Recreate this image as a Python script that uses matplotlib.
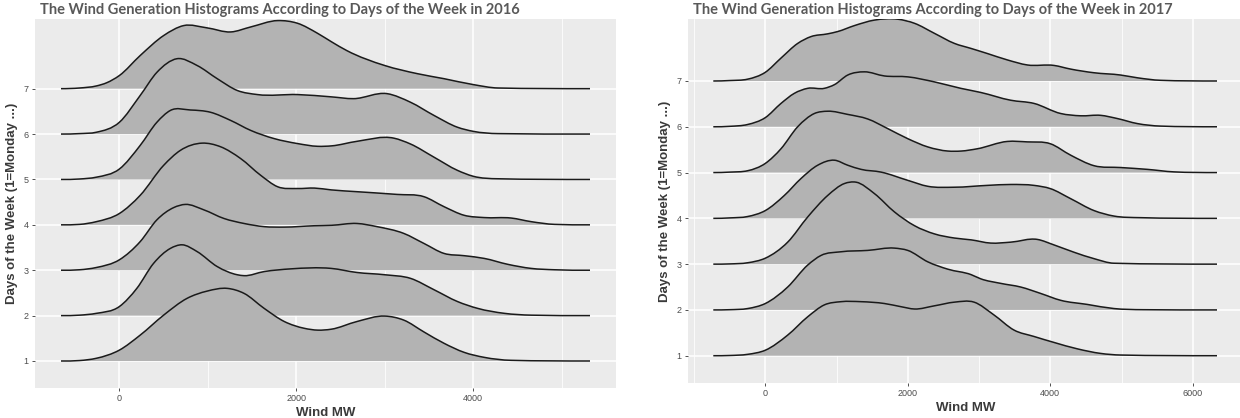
import matplotlib
matplotlib.use('Agg')
import matplotlib.pyplot as plt
from matplotlib.path import Path
from matplotlib.patches import PathPatch
import numpy as np

# ridge outlines: x in MW, height in row units above the baseline
days = [1, 2, 3, 4, 5, 6, 7]

# ---- 2016 ----
x16_1 = [-660, -450, -260, 0, 235, 500, 765, 992, 1220, 1409, 1636, 1864, 2091, 2242, 2394, 2686, 3000, 3216, 3443, 3670, 3898, 4125, 4428, 5320]
h16_1 = [0, 0.01, 0.06, 0.24, 0.57, 1.01, 1.38, 1.54, 1.60, 1.49, 1.16, 0.87, 0.72, 0.68, 0.70, 0.87, 0.99, 0.90, 0.64, 0.39, 0.19, 0.08, 0.015, 0]
x16_2 = [-660, -450, -260, 0, 197, 386, 576, 708, 879, 1106, 1333, 1409, 1636, 1939, 2394, 2686, 3000, 3292, 3557, 3822, 4049, 4352, 4655, 5320]
h16_2 = [0, 0.01, 0.05, 0.20, 0.60, 1.15, 1.48, 1.56, 1.41, 1.08, 0.90, 0.88, 0.97, 1.03, 1.04, 0.95, 0.90, 0.82, 0.57, 0.31, 0.16, 0.05, 0.01, 0]
x16_3 = [-660, -450, -260, 0, 235, 424, 614, 746, 955, 1182, 1409, 1636, 1864, 2205, 2400, 2686, 2913, 3216, 3443, 3670, 3898, 4125, 4390, 4655, 4920, 5320]
h16_3 = [0, 0.01, 0.06, 0.23, 0.63, 1.11, 1.38, 1.45, 1.33, 1.14, 1.03, 0.96, 0.95, 0.98, 0.99, 1.03, 0.96, 0.81, 0.59, 0.37, 0.32, 0.26, 0.13, 0.04, 0.01, 0]
x16_4 = [-660, -450, -260, 0, 235, 500, 689, 936, 1144, 1371, 1598, 1788, 2015, 2205, 2394, 2686, 3140, 3443, 3670, 3898, 4125, 4428, 4655, 4920, 5320]
h16_4 = [0, 0.01, 0.07, 0.25, 0.65, 1.31, 1.64, 1.80, 1.72, 1.46, 1.09, 0.84, 0.80, 0.81, 0.77, 0.73, 0.67, 0.62, 0.40, 0.21, 0.16, 0.15, 0.07, 0.01, 0]
x16_5 = [-660, -450, -260, 0, 235, 424, 576, 803, 1030, 1258, 1485, 1750, 2015, 2242, 2400, 2686, 3102, 3292, 3557, 3822, 4000, 4280, 5320]
h16_5 = [0, 0.01, 0.05, 0.23, 0.75, 1.26, 1.52, 1.53, 1.48, 1.30, 1.08, 0.90, 0.79, 0.73, 0.74, 0.84, 0.91, 0.78, 0.49, 0.20, 0.07, 0.015, 0]
x16_6 = [-660, -450, -260, 0, 235, 424, 651, 879, 1106, 1333, 1561, 2015, 2394, 2648, 3027, 3292, 3557, 3822, 4000, 4280, 5320]
h16_6 = [0, 0.01, 0.04, 0.26, 0.85, 1.36, 1.66, 1.51, 1.22, 0.96, 0.87, 0.87, 0.82, 0.78, 0.89, 0.70, 0.41, 0.15, 0.06, 0.01, 0]
x16_7 = [-660, -450, -260, -144, 0, 235, 500, 727, 990, 1260, 1485, 1790, 2015, 2240, 2400, 2570, 3000, 3370, 3670, 4000, 4280, 5320]
h16_7 = [0, 0.015, 0.06, 0.13, 0.29, 0.73, 1.17, 1.39, 1.34, 1.25, 1.36, 1.50, 1.44, 1.22, 1.03, 0.84, 0.51, 0.33, 0.22, 0.09, 0.015, 0]

# ---- 2017 ----
x17_1 = [-730, -500, -248, 0, 314, 595, 829, 1063, 1344, 1672, 1906, 2094, 2375, 2656, 2930, 3210, 3491, 3772, 4052, 4380, 4707, 4988, 6340]
h17_1 = [0, 0.005, 0.03, 0.12, 0.45, 0.85, 1.11, 1.18, 1.18, 1.14, 1.07, 1.02, 1.09, 1.17, 1.17, 0.89, 0.56, 0.42, 0.29, 0.15, 0.05, 0.015, 0]
x17_2 = [-730, -500, -248, 0, 314, 595, 782, 1063, 1438, 1813, 2000, 2281, 2562, 2890, 3023, 3304, 3585, 3865, 4146, 4520, 4894, 5300, 6340]
h17_2 = [0, 0.005, 0.03, 0.14, 0.50, 0.98, 1.19, 1.27, 1.30, 1.35, 1.30, 1.05, 0.89, 0.77, 0.68, 0.58, 0.50, 0.36, 0.21, 0.12, 0.03, 0.005, 0]
x17_3 = [-730, -500, -248, 0, 314, 595, 876, 1110, 1274, 1532, 1813, 2094, 2375, 2656, 2890, 3164, 3444, 3818, 4052, 4333, 4614, 4894, 6340]
h17_3 = [0, 0.005, 0.03, 0.13, 0.48, 1.03, 1.50, 1.76, 1.79, 1.54, 1.14, 0.84, 0.66, 0.57, 0.53, 0.46, 0.48, 0.54, 0.42, 0.26, 0.12, 0.02, 0]
x17_4 = [-730, -500, -248, 0, 267, 501, 735, 970, 1157, 1344, 1625, 2000, 2281, 2656, 3117, 3444, 3772, 4000, 4286, 4614, 4894, 5268, 6340]
h17_4 = [0, 0.01, 0.04, 0.17, 0.50, 0.87, 1.16, 1.27, 1.16, 1.07, 1.01, 0.83, 0.70, 0.68, 0.72, 0.74, 0.72, 0.65, 0.43, 0.17, 0.05, 0.015, 0]
x17_5 = [-730, -500, -248, 0, 220, 454, 689, 876, 1157, 1438, 1719, 2000, 2281, 2562, 2749, 2977, 3398, 3678, 4000, 4286, 4614, 4988, 5362, 5736, 6340]
h17_5 = [0, 0.01, 0.04, 0.20, 0.52, 1.00, 1.29, 1.34, 1.27, 1.17, 0.96, 0.74, 0.56, 0.47, 0.47, 0.52, 0.68, 0.67, 0.63, 0.38, 0.15, 0.11, 0.07, 0.015, 0]
x17_6 = [-730, -500, -248, 0, 220, 407, 595, 829, 970, 1157, 1391, 1672, 2000, 2375, 2743, 3023, 3444, 3772, 4146, 4427, 4707, 4941, 5222, 5549, 6340]
h17_6 = [0, 0.01, 0.05, 0.20, 0.51, 0.73, 0.84, 0.84, 0.92, 1.13, 1.20, 1.11, 1.09, 0.98, 0.84, 0.75, 0.58, 0.51, 0.29, 0.24, 0.25, 0.18, 0.07, 0.015, 0]
x17_7 = [-730, -500, -248, 0, 220, 454, 642, 876, 1016, 1251, 1532, 1859, 2094, 2375, 2656, 2890, 3117, 3398, 3678, 4052, 4286, 4614, 4988, 5222, 5549, 6340]
h17_7 = [0, 0.01, 0.04, 0.19, 0.50, 0.82, 0.97, 1.03, 1.08, 1.21, 1.33, 1.35, 1.26, 1.04, 0.82, 0.71, 0.60, 0.46, 0.35, 0.34, 0.26, 0.18, 0.13, 0.07, 0.015, 0]

ridges16 = [(x16_1, h16_1), (x16_2, h16_2), (x16_3, h16_3), (x16_4, h16_4), (x16_5, h16_5), (x16_6, h16_6), (x16_7, h16_7)]
ridges17 = [(x17_1, h17_1), (x17_2, h17_2), (x17_3, h17_3), (x17_4, h17_4), (x17_5, h17_5), (x17_6, h17_6), (x17_7, h17_7)]

xticks16 = [0, 2000, 4000]
xminor16 = [1000, 3000, 5000]
xticks17 = [0, 2000, 4000, 6000]
xminor17 = [-1000, 1000, 3000, 5000]

title16 = 'The Wind Generation Histograms According to Days of the Week in 2016'
title17 = 'The Wind Generation Histograms According to Days of the Week in 2017'

W, H = 1240, 418
fig = plt.figure(figsize=(W / 100, H / 100), dpi=100)
fig.patch.set_facecolor('white')

narrow = ['Liberation Sans Narrow', 'Liberation Sans', 'DejaVu Sans']


def bezier_verts(xs, hs, base):
    # smooth outline through the read points (cubic bezier, flat at both ends)
    x = np.asarray(xs, float)
    y = np.asarray(hs, float)
    dx = np.diff(x)
    sec = np.diff(y) / dx
    m = np.zeros_like(y)
    for i in range(1, len(y) - 1):
        d = (sec[i - 1] * dx[i] + sec[i] * dx[i - 1]) / (dx[i - 1] + dx[i])
        if y[i] < 0.1:
            # near the baseline: keep the tail from dipping below zero
            if sec[i - 1] * sec[i] <= 0:
                d = 0
            else:
                d = np.sign(d) * min(abs(d), 3 * min(abs(sec[i - 1]), abs(sec[i])))
        m[i] = d
    y = y + base
    verts = [(x[0], y[0])]
    codes = [Path.MOVETO]
    for i in range(len(x) - 1):
        h = dx[i] / 3
        verts += [(x[i] + h, y[i] + m[i] * h), (x[i + 1] - h, y[i + 1] - m[i + 1] * h), (x[i + 1], y[i + 1])]
        codes += [Path.CURVE4] * 3
    return verts, codes


def ridge_panel(box, ridges, xlim, ylim, xticks, xminor, title):
    l, t, r, b = box
    ax = fig.add_axes([l / W, 1 - b / H, (r - l) / W, (b - t) / H])
    ax.set_facecolor('#EBEBEB')
    for s in ax.spines.values():
        s.set_visible(False)
    ax.set_xlim(xlim)
    ax.set_ylim(ylim)
    ax.set_xticks(xticks)
    ax.set_xticks(xminor, minor=True)
    ax.set_yticks(days)
    ax.grid(True, which='major', color='white', lw=1.1, zorder=0)
    ax.grid(True, which='minor', axis='x', color='white', lw=0.55, zorder=0)
    ax.set_axisbelow(True)
    ax.tick_params(which='major', length=2.5, width=0.6, color='#333333',
                   labelsize=6.5, labelcolor='#4D4D4D', pad=2)
    ax.tick_params(which='minor', length=0)
    for lab in ax.get_xticklabels() + ax.get_yticklabels():
        lab.set_family(narrow)
    # top row first so the lower ridges sit on top
    for i in range(len(days) - 1, -1, -1):
        xs, hs = ridges[i]
        base = days[i]
        verts, codes = bezier_verts(xs, hs, base)
        fill_v = verts + [(xs[-1], base), (xs[0], base), (xs[0], base)]
        fill_c = codes + [Path.LINETO, Path.LINETO, Path.CLOSEPOLY]
        z = 2 + 2 * (7 - i)
        ax.add_patch(PathPatch(Path(fill_v, fill_c), facecolor='#B3B3B3', lw=0, zorder=z))
        ax.add_patch(PathPatch(Path(verts, codes), facecolor='none', edgecolor='#1A1A1A',
                               lw=1.1, joinstyle='round', zorder=z + 1))
    ax.set_xlabel('Wind MW', fontsize=9.5, fontweight='bold', color='#3A3A3A',
                  family=narrow, labelpad=3)
    ax.set_ylabel('Days of the Week (1=Monday ...)', fontsize=9.5, fontweight='bold',
                  color='#3A3A3A', family=narrow, labelpad=4)
    fig.text((l + 5) / W, 1 - 10 / H, title, fontsize=10.5, fontweight='bold',
             color='#595959', family=['Lato', 'DejaVu Sans'], ha='left', va='center')
    return ax


ridge_panel((35, 19, 616, 388), ridges16, (-954, 5614), (0.405, 8.535),
            xticks16, xminor16, title16)
ridge_panel((688, 19, 1242.5, 383), ridges17, (-1085, 6698), (0.404, 8.354),
            xticks17, xminor17, title17)

fig.savefig('out.png', dpi=100)
